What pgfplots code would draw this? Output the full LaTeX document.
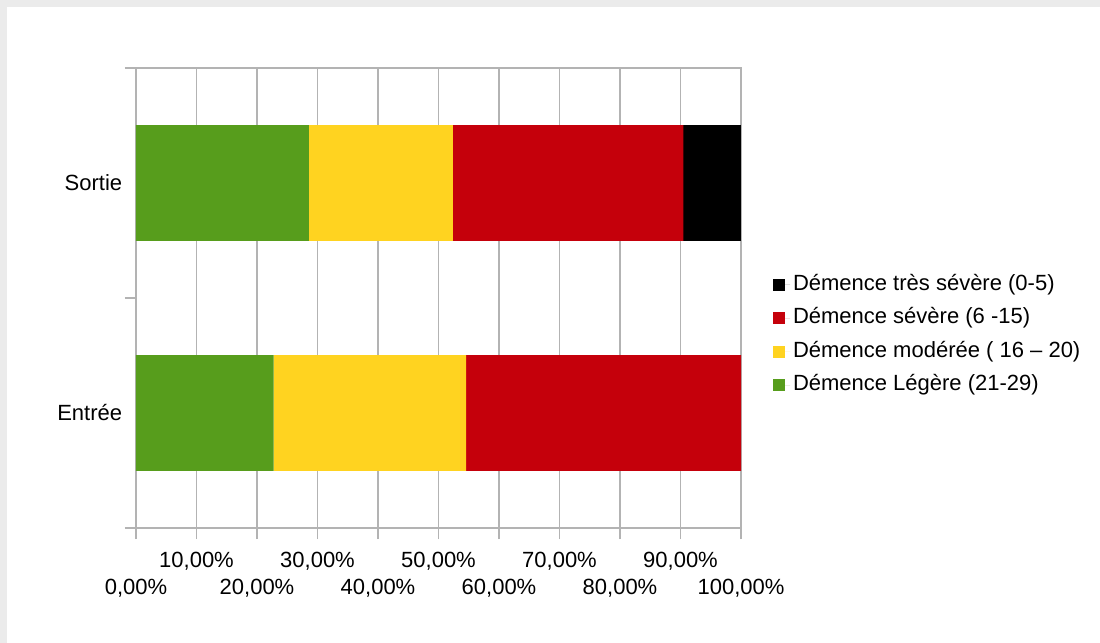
\documentclass[border=0pt]{standalone}
\usepackage{fontspec}
\setmainfont{Liberation Sans}
\usepackage{pgfplots}
\pgfplotsset{compat=1.18}
\definecolor{cgreen}{HTML}{579D1C}
\definecolor{cyellow}{HTML}{FFD320}
\definecolor{cred}{HTML}{C5000B}
\definecolor{cgrid}{HTML}{B3B3B3}
\definecolor{cshadow}{HTML}{EBEBEB}
\begin{document}
\begin{tikzpicture}
\fill[cshadow] (0,0) rectangle (550pt,-321.5pt);
\fill[white] (3.5pt,-3.5pt) rectangle (550pt,-321.5pt);
\begin{axis}[
  at={(68pt,-264pt)}, anchor=south west,
  scale only axis, width=302.5pt, height=230pt,
  xbar stacked, bar width=0.504,
  xmin=0, xmax=100, ymin=0, ymax=2,
  xtick={0,20,40,60,80,100},
  xticklabels={{0,00\%},{20,00\%},{40,00\%},{60,00\%},{80,00\%},{100,00\%}},
  extra x ticks={10,30,50,70,90},
  extra x tick labels={{10,00\%},{30,00\%},{50,00\%},{70,00\%},{90,00\%}},
  extra x tick style={tick label style={yshift=13.5pt}},
  ytick={0,1,2}, yticklabels={},
  extra y ticks={0.5,1.5},
  extra y tick labels={Entrée,Sortie},
  extra y tick style={tick style={draw=none}},
  xmajorgrids,
  grid style={cgrid, line width=0.6pt},
  axis line style={cgrid, line width=0.6pt},
  tick style={cgrid, line width=0.6pt},
  tick align=outside,
  xtick pos=left, ytick pos=left,
  major tick length=5.5pt,
  tick label style={font=\fontsize{11}{13.2}\selectfont, text=black},
  xticklabel style={anchor=base, yshift=-27.75pt},
  yticklabel style={xshift=2.1pt},
  reverse legend,
  legend style={draw=none, fill=none, at={(1.0529,0.558)}, anchor=north west,
    inner sep=0pt, outer sep=0pt,
    font=\fontsize{11}{13.2}\selectfont,
    nodes={inner sep=1.5pt, text height=8pt, text depth=2.5pt},
    row sep=3.25pt},
  legend cell align=left,
  legend image code/.code={\fill[#1] (0pt,-3pt) rectangle (6pt,3pt); \path (6pt,0pt) -- (8.5pt,0pt);},
]
\addplot[fill=cgreen, draw=none] coordinates {(22.73,0.5) (28.57,1.5)};
\addplot[fill=cyellow, draw=none] coordinates {(31.82,0.5) (23.81,1.5)};
\addplot[fill=cred, draw=none] coordinates {(45.45,0.5) (38.10,1.5)};
\addplot[fill=black, draw=none] coordinates {(0,0.5) (9.52,1.5)};
\legend{Démence Légère (21-29),Démence modérée ( 16 – 20),Démence sévère (6 -15),Démence très sévère (0-5)}
\end{axis}
\pgfresetboundingbox
\path (0,0) rectangle (550pt,-321.5pt);
\end{tikzpicture}
\end{document}
